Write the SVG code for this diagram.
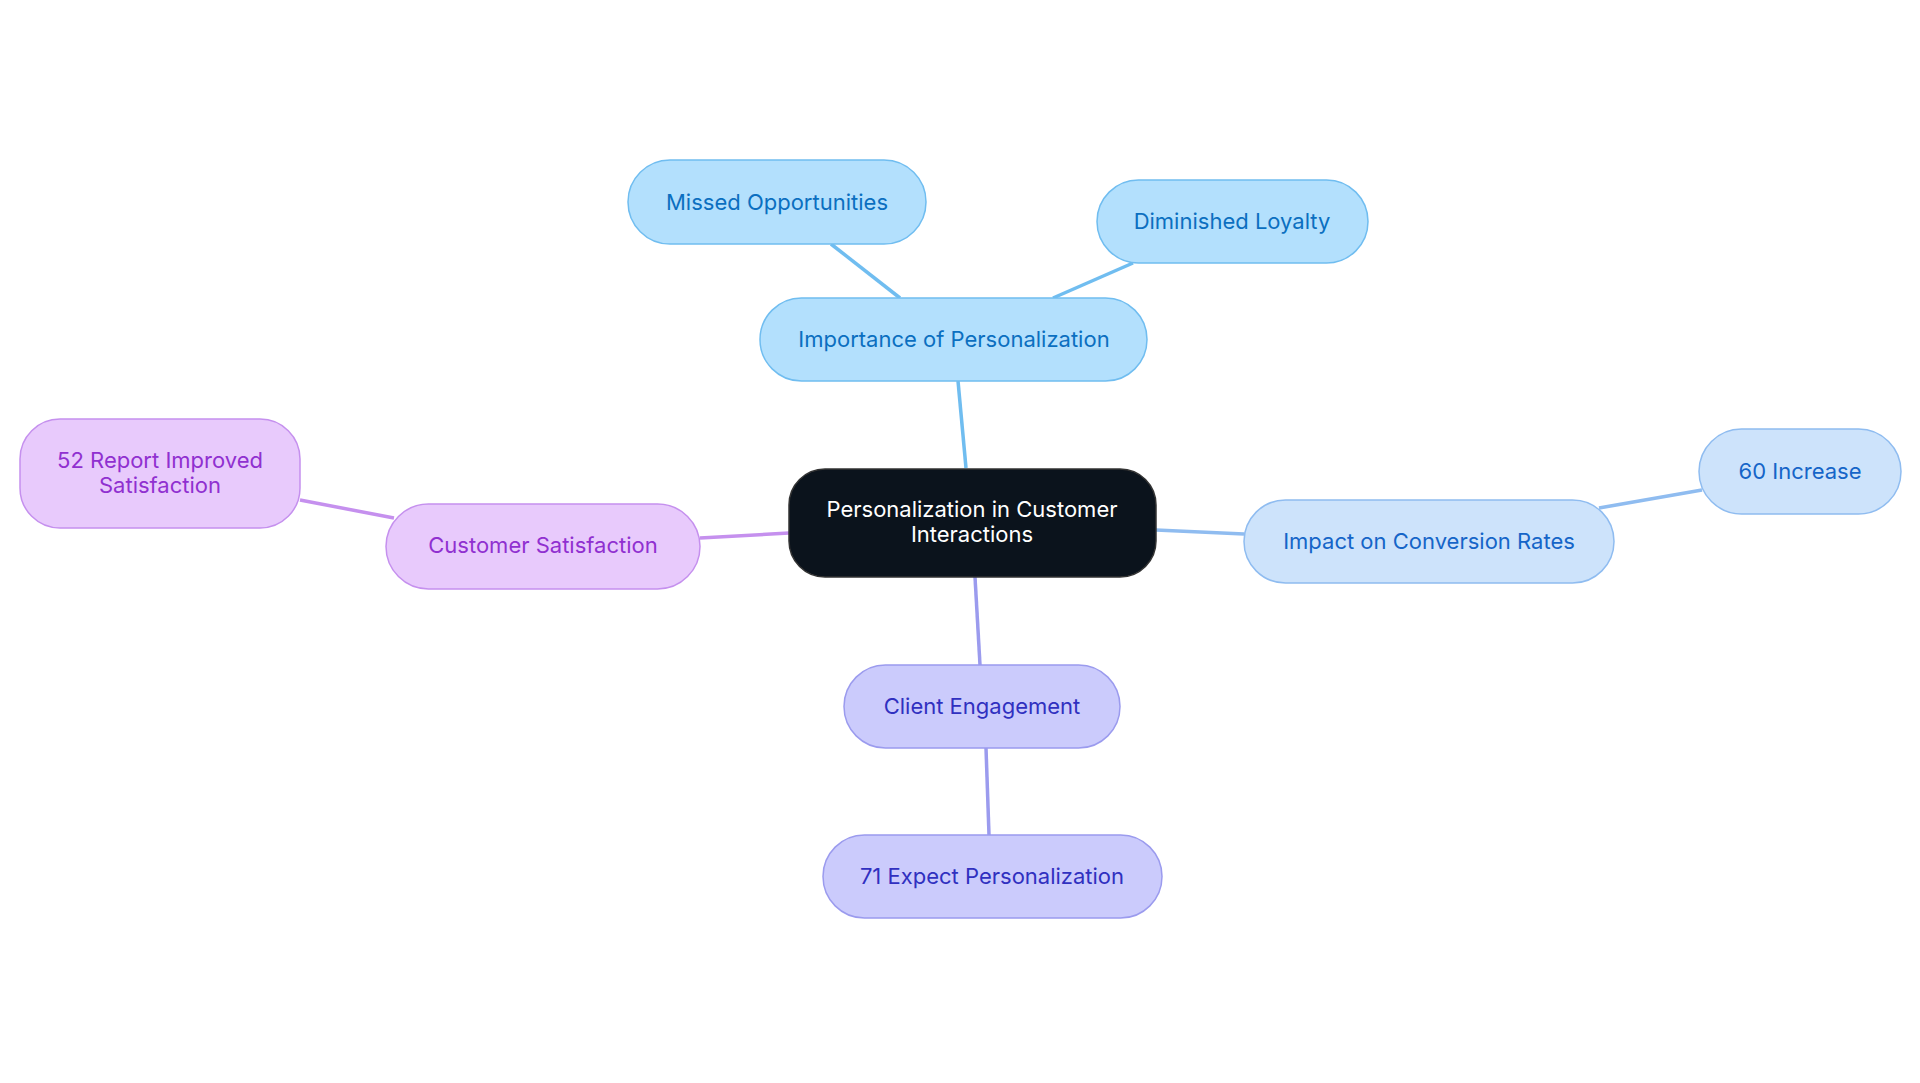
<svg xmlns="http://www.w3.org/2000/svg" width="1920" height="1083" viewBox="0 0 1920 1083">
<style>
text{font-family:Inter,"Noto Sans",sans-serif;font-size:22px;text-anchor:middle;dominant-baseline:central}
.b rect{fill:#b3e0fd;stroke:#70bdf0;stroke-width:1.5}.b text{fill:#0b6fc0}
.c rect{fill:#cde3fb;stroke:#8fbcf0;stroke-width:1.5}.c text{fill:#1565c8}
.l rect{fill:#cbcbfc;stroke:#9b9bee;stroke-width:1.5}.l text{fill:#3030c0}
.p rect{fill:#e8cafc;stroke:#c590ee;stroke-width:1.5}.p text{fill:#9030d0}
#conn line{stroke-width:3.5;fill:none}
</style>
<rect width="1920" height="1083" fill="#fff"/>
<g id="conn">
<line x1="966" y1="468" x2="958" y2="381" stroke="#70bdf0"/>
<line x1="900" y1="298" x2="831" y2="244" stroke="#70bdf0"/>
<line x1="1053" y1="298" x2="1133" y2="263" stroke="#70bdf0"/>
<line x1="1156" y1="530" x2="1244" y2="534" stroke="#8fbcf0"/>
<line x1="1599" y1="508" x2="1702" y2="490" stroke="#8fbcf0"/>
<line x1="975" y1="577" x2="980" y2="665" stroke="#9b9bee"/>
<line x1="986" y1="748" x2="989" y2="835" stroke="#9b9bee"/>
<line x1="789" y1="533" x2="700" y2="538" stroke="#c590ee"/>
<line x1="394" y1="518" x2="300" y2="500" stroke="#c590ee"/>
</g>
<g id="center"><rect x="789" y="469" width="367" height="108" rx="36" fill="#0b131c" stroke="#333" stroke-width="1.5"/><text x="972" y="509" fill="#fff">Personalization in Customer</text><text x="972" y="534" fill="#fff">Interactions</text></g>
<g id="importance" class="b"><rect x="760" y="298" width="387" height="83" rx="41.5"/><text x="954" y="339">Importance of Personalization</text></g>
<g id="missed" class="b"><rect x="628" y="160" width="298" height="84" rx="42"/><text x="777" y="202">Missed Opportunities</text></g>
<g id="diminished" class="b"><rect x="1097" y="180" width="271" height="83" rx="41.5"/><text x="1232" y="221">Diminished Loyalty</text></g>
<g id="impact" class="c"><rect x="1244" y="500" width="370" height="83" rx="41.5"/><text x="1429" y="541">Impact on Conversion Rates</text></g>
<g id="increase" class="c"><rect x="1699" y="429" width="202" height="85" rx="42.5"/><text x="1800" y="471">60 Increase</text></g>
<g id="client" class="l"><rect x="844" y="665" width="276" height="83" rx="41.5"/><text x="982" y="706">Client Engagement</text></g>
<g id="expect" class="l"><rect x="823" y="835" width="339" height="83" rx="41.5"/><text x="992" y="876">71 Expect Personalization</text></g>
<g id="satisfaction" class="p"><rect x="386" y="504" width="314" height="85" rx="42.5"/><text x="543" y="545">Customer Satisfaction</text></g>
<g id="report" class="p"><rect x="20" y="419" width="280" height="109" rx="40"/><text x="160" y="460">52 Report Improved</text><text x="160" y="485">Satisfaction</text></g>
</svg>
